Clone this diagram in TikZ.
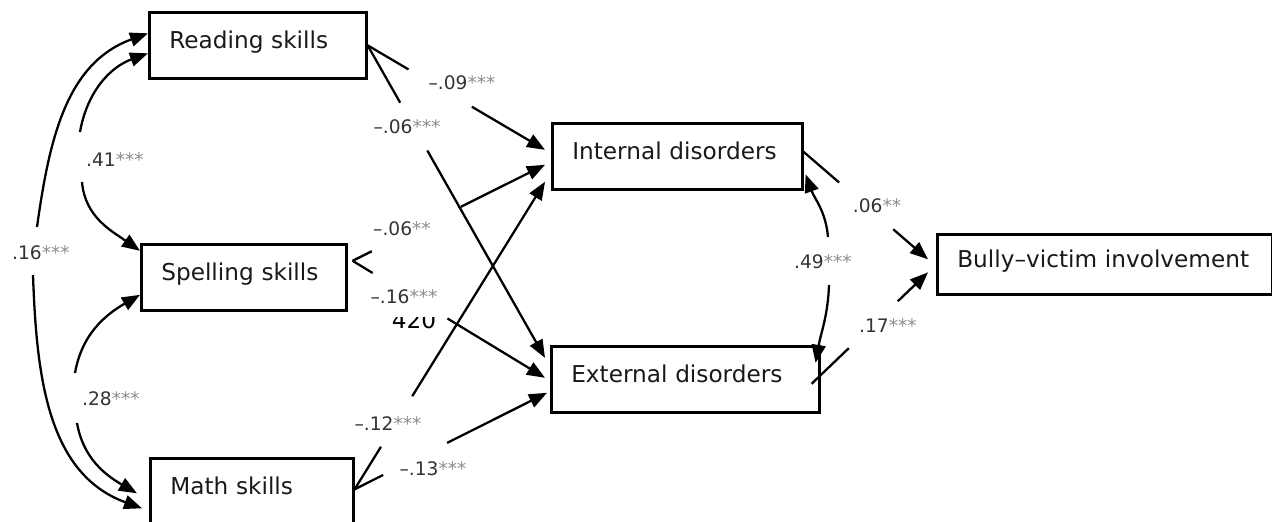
\documentclass[tikz,border=0pt]{standalone}
\usepackage{fontspec}
\setmainfont{DejaVu Sans}
\usetikzlibrary{arrows.meta}
\newcommand{\vbfont}{\fontsize{13.2pt}{16pt}\selectfont}
\newcommand{\lbfont}{\fontsize{10.6pt}{12pt}\selectfont}
\newcommand{\coef}[2]{#1{\color{black!45}#2}}
\tikzset{x=0.02cm, y=0.02cm,
  varbox/.style={draw, line width=1.5pt, anchor=north west, minimum height=1.32cm, inner xsep=0.4cm, text width=#1, align=left, font=\vbfont, text=black!90, text height=0.7em, text depth=0.32em},
  link/.style 2 args={line width=1.3pt, -{Triangle[length=0.36cm, width=0.28cm]}, dash pattern=on #1 off #2 on 20cm off 1cm},
  half/.style={line width=1.3pt, -{Triangle[length=0.36cm, width=0.28cm]}},
  lbl/.style={font=\lbfont, text=black!80, inner sep=1pt, anchor=base}}

\begin{document}
\begin{tikzpicture}
\useasboundingbox (0,0) rectangle (1272,-521);
\node[varbox=3.54cm] (1) at (148,-11) {Reading skills};
\node[varbox=3.30cm] (2) at (140,-243) {Spelling skills};
\node[varbox=3.26cm] (3) at (149,-457) {Math skills};
\node[varbox=4.20cm] (4) at (551,-122) {Internal disorders};
\node[varbox=4.56cm] (5) at (550,-345) {External disorders};
\node[varbox=5.90cm, minimum height=1.2cm] (6) at (936,-233) {Bully–victim involvement};
\draw[link={0.95cm}{1.47cm}] (1.east) to ([xshift=-0.12cm, yshift=0.13cm]4.west);
\draw[link={1.32cm}{1.10cm}] (1.east) to ([xshift=-0.1cm, yshift=0.43cm]5.west);
\draw[link={0.43cm}{1.99cm}] ([xshift=0.1cm, yshift=0.33cm]2.east) to ([xshift=-0.12cm, yshift=-0.17cm]4.west);
\draw[link={0.47cm}{1.75cm}] ([xshift=0.1cm, yshift=0.33cm]2.east) to ([xshift=-0.1cm, yshift=0.03cm]5.west);
\draw[link={1.0cm}{1.19cm}] ([yshift=0.04cm]3.east) to ([xshift=-0.12cm, yshift=-0.51cm]4.west);
\draw[link={0.64cm}{1.43cm}] ([yshift=0.04cm]3.east) to ([xshift=-0.06cm, yshift=-0.27cm]5.west);
\draw[link={0.94cm}{1.43cm}] ([yshift=0.09cm]4.east) to ([xshift=-0.16cm, yshift=0.1cm]6.west);
\draw[link={1.03cm}{1.36cm}] ([xshift=-0.18cm, yshift=-0.09cm]5.east) to ([xshift=-0.16cm, yshift=-0.16cm]6.west);
\coordinate (p1) at (80,-132);
\coordinate (p2) at (82,-182);
\coordinate (p3) at (37,-227);
\coordinate (p4) at (33,-275);
\coordinate (p5) at (75,-373);
\coordinate (p6) at (77,-423);
\coordinate (p7) at (828,-237);
\coordinate (p8) at (829,-285);
\draw[half] (p1) to[out=80, in=200] ([yshift=-0.16cm]1.west);
\draw[half] (p2) to[out=-85, in=145] ([yshift=0.53cm]2.west);
\draw[half] (p3) to[out=82, in=200] ([yshift=0.24cm]1.west);
\draw[half] (p4) to[out=-88, in=160] ([xshift=-0.14cm, yshift=-0.34cm]3.west);
\draw[half] (p5) to[out=80, in=210] ([yshift=-0.35cm]2.west);
\draw[half] (p6) to[out=-80, in=150] ([xshift=-0.24cm, yshift=-0.04cm]3.west);
\draw[half] (p7) to[out=95, in=-70] ([xshift=0.04cm, yshift=-0.36cm]4.east);
\draw[half] (p8) to[out=-92, in=80] ([xshift=-0.1cm, yshift=0.33cm]5.east);
\node[lbl] (l1) at (115,-166) {\coef{.41}{***}};
\node[lbl] (l2) at (41,-259) {\coef{.16}{***}};
\node[lbl] (l3) at (111,-405) {\coef{.28}{***}};
\node[lbl] (l4) at (462,-89) {\coef{–.09}{***}};
\node[lbl] (l5) at (407,-133) {\coef{–.06}{***}};
\node[lbl] (l6) at (402,-235) {\coef{–.06}{**}};
\node[anchor=base, font=\vbfont, inner sep=0pt] (l0) at (414,-328) {420};
\node[lbl, fill=white, text depth=0.68em] (l7) at (404,-303) {\coef{–.16}{***}};
\node[lbl] (l8) at (388,-430) {\coef{–.12}{***}};
\node[lbl] (l9) at (433,-475) {\coef{–.13}{***}};
\node[lbl] (l10) at (823,-268) {\coef{.49}{***}};
\node[lbl] (l11) at (877,-212) {\coef{.06}{**}};
\node[lbl] (l12) at (888,-332) {\coef{.17}{***}};
\end{tikzpicture}
\end{document}
